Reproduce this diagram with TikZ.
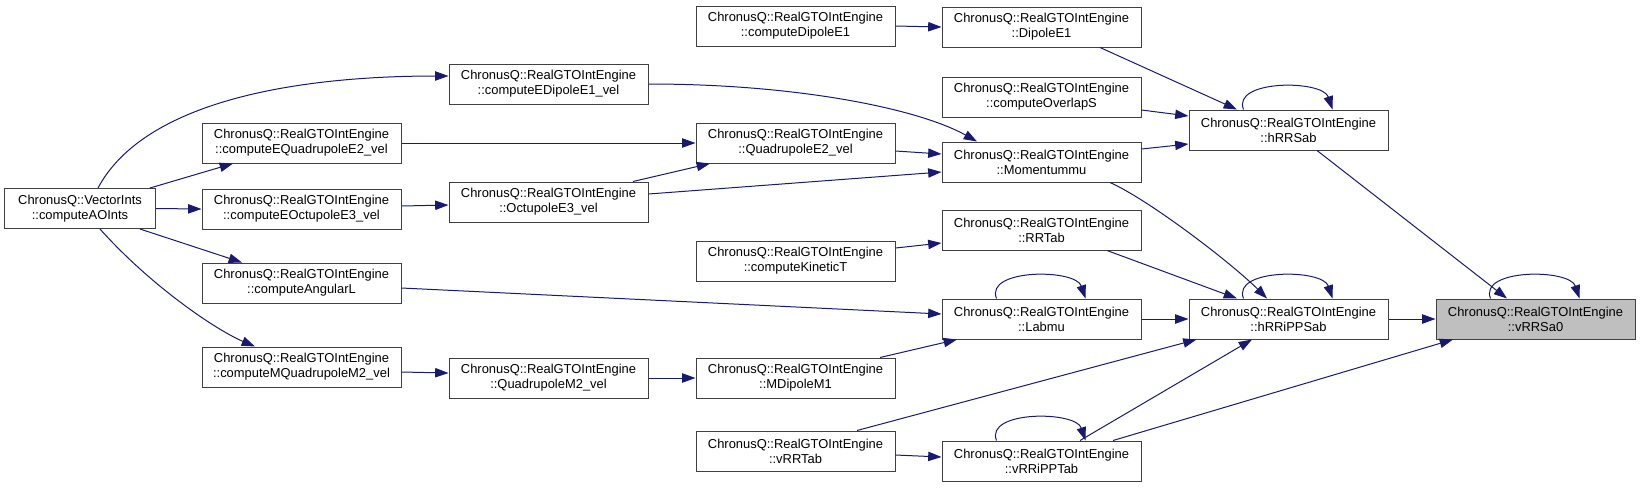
\documentclass[tikz,border=0pt]{standalone}
\usepackage{fontspec}
\setmainfont{Liberation Sans}
\usetikzlibrary{arrows.meta,calc}

\definecolor{grey75}{gray}{0.75}
\definecolor{navyedge}{HTML}{191970}

\tikzset
{%函数框与调用箭头
  fn/.style={draw=black!75,line width=0.75pt,fill=white,minimum width=149.25pt,minimum height=30pt,
    inner sep=0pt,align=center,font=\fontsize{9.7}{11.25}\selectfont},
  call/.style={navyedge,line width=0.75pt,-{Triangle[length=10pt,width=7pt]}},
  selfcall/.style={to path={.. controls +(-12,-30) and +(-10,-30) .. (\tikztotarget)}},
}

\begin{document}
\begin{tikzpicture}[x=0.75pt,y=-0.75pt]
\useasboundingbox (0,0) rectangle (1640,487);

\node[fn,fill=grey75] (vrr) at (1535.5,319) {ChronusQ::RealGTOIntEngine\\::vRRSa0};
\node[fn] (hrr) at (1288.5,130) {ChronusQ::RealGTOIntEngine\\::hRRSab};
\node[fn] (hrrpp) at (1288.5,319) {ChronusQ::RealGTOIntEngine\\::hRRiPPSab};
\node[fn] (dip) at (1041.5,27) {ChronusQ::RealGTOIntEngine\\::DipoleE1};
\node[fn] (ovl) at (1041.5,97) {ChronusQ::RealGTOIntEngine\\::computeOverlapS};
\node[fn] (mom) at (1041.5,162) {ChronusQ::RealGTOIntEngine\\::Momentummu};
\node[fn] (rrt) at (1041.5,230) {ChronusQ::RealGTOIntEngine\\::RRTab};
\node[fn] (lab) at (1041.5,319) {ChronusQ::RealGTOIntEngine\\::Labmu};
\node[fn] (vrrpp) at (1041.5,461) {ChronusQ::RealGTOIntEngine\\::vRRiPPTab};
\node[fn] (cdip) at (795.5,26) {ChronusQ::RealGTOIntEngine\\::computeDipoleE1};
\node[fn] (qe2) at (795.5,143) {ChronusQ::RealGTOIntEngine\\::QuadrupoleE2\_vel};
\node[fn] (ckin) at (795.5,261) {ChronusQ::RealGTOIntEngine\\::computeKineticT};
\node[fn] (mdm) at (795.5,378) {ChronusQ::RealGTOIntEngine\\::MDipoleM1};
\node[fn] (vrrt) at (795.5,451) {ChronusQ::RealGTOIntEngine\\::vRRTab};
\node[fn] (cedip) at (548.5,84) {ChronusQ::RealGTOIntEngine\\::computeEDipoleE1\_vel};
\node[fn] (oe3) at (548.5,202) {ChronusQ::RealGTOIntEngine\\::OctupoleE3\_vel};
\node[fn] (qm2) at (548.5,378) {ChronusQ::RealGTOIntEngine\\::QuadrupoleM2\_vel};
\node[fn] (ceq) at (301.5,143) {ChronusQ::RealGTOIntEngine\\::computeEQuadrupoleE2\_vel};
\node[fn] (ceo) at (301.5,209) {ChronusQ::RealGTOIntEngine\\::computeEOctupoleE3\_vel};
\node[fn] (cang) at (301.5,283) {ChronusQ::RealGTOIntEngine\\::computeAngularL};
\node[fn] (cmq) at (301.5,367) {ChronusQ::RealGTOIntEngine\\::computeMQuadrupoleM2\_vel};
\node[fn,minimum width=113pt] (aoi) at (80,208.5) {ChronusQ::VectorInts\\::computeAOInts};

% 自调用
\draw[call] ($(vrr.north)+(-45,0)$) to[selfcall] ($(vrr.north)+(44,0)$);
\draw[call] ($(hrr.north)+(-45,0)$) to[selfcall] ($(hrr.north)+(44,0)$);
\draw[call] ($(hrrpp.north)+(-45,0)$) to[selfcall] ($(hrrpp.north)+(44,0)$);
\draw[call] ($(lab.north)+(-45,0)$) to[selfcall] ($(lab.north)+(44,0)$);
\draw[call] ($(vrrpp.north)+(-45,0)$) to[selfcall] ($(vrrpp.north)+(44,0)$);

\draw[call] ($(hrr.south)+(28.5,0)$) -- ($(vrr.north)+(-28.5,0)$);
\draw[call] (hrrpp.east) -- (vrr.west);
\draw[call] ($(vrrpp.north)+(71.5,0)$) -- ($(vrr.south)+(-82.5,0)$);

\draw[call] ($(dip.south)+(58.5,0)$) -- ($(hrr.north)+(-51.5,0)$);
\draw[call] ($(ovl.east)+(0,13)$) -- ($(hrr.west)+(0,-14)$);
\draw[call] ($(mom.east)+(0,-13)$) -- ($(hrr.west)+(0,14)$);

\draw[call] ($(mom.south)+(68.5,0)$) .. controls +(40,18) and +(-35,-35) .. ($(hrrpp.north)+(-21.5,0)$);
\draw[call] ($(rrt.south)+(65.5,0)$) -- ($(hrrpp.north)+(-51.5,0)$);
\draw[call] (lab.east) -- (hrrpp.west);
\draw[call] ($(vrrt.north)+(61.5,0)$) -- ($(hrrpp.south west)+(8,0)$);
\draw[call] ($(vrrpp.north)+(38.5,0)$) -- ($(hrrpp.south)+(-36.5,0)$);

\draw[call] ($(vrrt.east)+(0,4)$) -- ($(vrrpp.west)+(0,-4)$);
\draw[call] (cdip.east) -- (dip.west);
\draw[call] ($(qe2.east)+(0,8)$) -- ($(mom.west)+(0,-8)$);
\draw[call] ($(oe3.east)+(0,-8)$) -- ($(mom.west)+(0,10)$);
\draw[call] (cedip.east) .. controls +(152,0) and +(-57,-32) .. ($(mom.north)+(-64.5,0)$);
\draw[call] ($(ckin.east)+(0,-13)$) -- ($(rrt.west)+(0,13)$);
\draw[call] ($(cang.east)+(0,5)$) -- ($(lab.west)+(0,-5)$);
\draw[call] ($(mdm.north)+(84.5,0)$) -- ($(lab.south)+(-84.5,0)$);

\draw[call] (qm2.east) -- (mdm.west);
\draw[call] (ceq.east) -- (qe2.west);
\draw[call] ($(oe3.north)+(84.5,0)$) -- ($(qe2.south)+(-85.5,0)$);
\draw[call] ($(ceo.east)+(0,-3)$) -- ($(oe3.west)+(0,3)$);
\draw[call] ($(cmq.east)+(0,5)$) -- ($(qm2.west)+(0,-5)$);

\draw[call] ($(aoi.north)+(18,0)$) .. controls +(47,-88) and +(-149,0) .. ($(cedip.west)+(0,-8)$);
\draw[call] ($(aoi.north)+(70,0)$) -- ($(ceq.south)+(-68.5,0)$);
\draw[call] (aoi.east) -- (ceo.west);
\draw[call] ($(aoi.south)+(60,0)$) -- ($(cang.north)+(-59.5,0)$);
\draw[call] ($(aoi.south)+(20,0)$) .. controls +(50,56) and +(-40,-17) .. ($(cmq.north)+(-46.5,0)$);
\end{tikzpicture}
\end{document}
